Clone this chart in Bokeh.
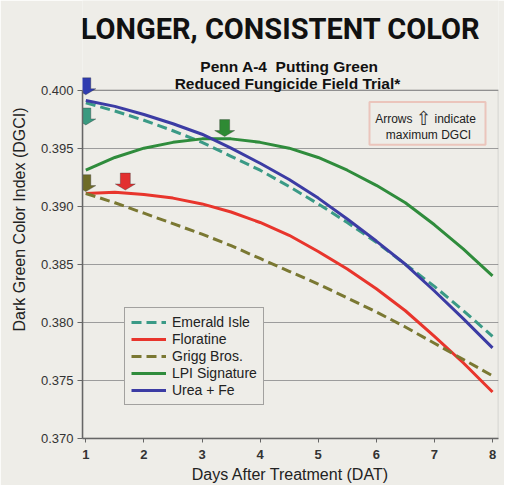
from bokeh.plotting import figure
from bokeh.models import (Legend, LegendItem, BoxAnnotation, Label, FixedTicker,
                          NumeralTickFormatter, Range1d)
from bokeh.embed import file_html
from bokeh.resources import INLINE

# ---------------- data ----------------
days = [1, 1.5, 2, 2.5, 3, 3.5, 4, 4.5, 5, 5.5, 6, 6.5, 7, 7.5, 8]
emerald_isle = [0.3989, 0.3982, 0.3974, 0.3965, 0.3955, 0.3943, 0.3931, 0.3917,
                0.3902, 0.3886, 0.3869, 0.3850, 0.3831, 0.3810, 0.3788]
floratine = [0.3911, 0.3912, 0.3910, 0.3907, 0.3902, 0.3895, 0.3886, 0.3875,
             0.3861, 0.3846, 0.3829, 0.3810, 0.3788, 0.3765, 0.3740]
grigg_bros = [0.3911, 0.3903, 0.3894, 0.3885, 0.3876, 0.3866, 0.3855, 0.3844,
              0.3833, 0.3821, 0.3809, 0.3796, 0.3782, 0.3768, 0.3754]
lpi_signature = [0.3931, 0.3942, 0.3950, 0.3955, 0.3958, 0.3958, 0.3955, 0.3950,
                 0.3942, 0.3931, 0.3918, 0.3903, 0.3884, 0.3863, 0.3840]
urea_fe = [0.3991, 0.3986, 0.3979, 0.3971, 0.3962, 0.3950, 0.3937, 0.3923,
           0.3907, 0.3889, 0.3870, 0.3850, 0.3827, 0.3803, 0.3778]

series_names = ["Emerald Isle", "Floratine", "Grigg Bros.", "LPI Signature", "Urea + Fe"]
# day and DGCI of the "maximum DGCI" arrows (tip position)
arrow_days = [1.0, 1.68, 1.0, 3.39, 1.0]
arrow_vals = [0.3970, 0.3914, 0.39126, 0.3960, 0.3996]

xtick_values = [1, 2, 3, 4, 5, 6, 7, 8]
ytick_values = [0.370, 0.375, 0.380, 0.385, 0.390, 0.395, 0.400]

# ---------------- styles ----------------
BG = "#eeede8"
line_colors = ["#3a9a86", "#e8352c", "#7a7832", "#2f8c3c", "#3c3ca4"]
arrow_colors = ["#3a9a80", "#e23030", "#6e6c28", "#2e8a34", "#2f3cb0"]
dashes = ["10 5", "solid", "10 5", "solid", "solid"]

W, H = 504, 485
BL, BR, BT, BB = 82, 6, 0, 45
X0, X1 = 0.943, 8.103
FW = W - BL - BR
FH = H - BT - BB
PX_X = FW / (X1 - X0)
PX_Y = 350 / 0.030          # pixels per DGCI unit (0.370..0.400 spans 350 px)
Y0 = 0.370
Y1 = Y0 + FH / PX_Y


def gx(px):  # page pixel -> data x
    return X0 + (px - 8 - BL) / PX_X


def gy(py):  # page pixel -> data y
    return Y0 + (8 + BT + FH - py) / PX_Y


p = figure(width=W, height=H, output_backend="svg", toolbar_location=None,
           x_range=Range1d(X0, X1), y_range=Range1d(Y0, Y1),
           min_border_left=BL, min_border_right=BR, min_border_top=BT,
           min_border_bottom=BB)
p.background_fill_color = BG
p.border_fill_color = BG
p.outline_line_color = None

# grid
p.xgrid.visible = False
p.ygrid.grid_line_color = "#9c9c9c"
p.ygrid.grid_line_width = 1.2

# axes
p.yaxis.ticker = FixedTicker(ticks=ytick_values)
p.yaxis.formatter = NumeralTickFormatter(format="0.000")
p.yaxis.bounds = (0.370, 0.400)
p.xaxis.ticker = FixedTicker(ticks=xtick_values)
for ax in (p.xaxis, p.yaxis):
    ax.axis_line_color = "#666666"
    ax.axis_line_width = 1.5
    ax.major_tick_line_color = "#666666"
    ax.major_tick_in = 0
    ax.minor_tick_line_color = None
    ax.major_label_text_font = "Liberation Sans"
    ax.major_label_text_color = "#333333"
    ax.axis_label_text_font = "Liberation Sans"
    ax.axis_label_text_font_style = "normal"
    ax.axis_label_text_color = "#222222"
    ax.axis_label_text_font_size = "16px"
p.yaxis.major_tick_out = 5
p.yaxis.major_label_text_font_size = "13px"
p.yaxis.major_label_standoff = 4
p.yaxis.axis_label = "Dark Green Color Index (DGCI)"
p.yaxis.axis_label_standoff = 10
p.xaxis.major_tick_out = 4
p.xaxis.major_label_text_font_size = "13px"
p.xaxis.major_label_text_font_style = "bold"
p.xaxis.major_label_standoff = 7
p.xaxis.axis_label = "Days After Treatment (DAT)"
p.xaxis.axis_label_standoff = 4

# frame box (0.370 - 0.400)
p.add_layout(BoxAnnotation(top=0.400, bottom=0.370, fill_alpha=0,
                           line_color="#6a6a6a", line_width=1.5, level="underlay"))

# series
all_series = [emerald_isle, floratine, grigg_bros, lpi_signature, urea_fe]
renderers = []
for vals, c, d in zip(all_series, line_colors, dashes):
    r = p.line(days, vals, line_color=c, line_width=3, line_dash=d)
    renderers.append(r)

# arrows (pixel shape around tip converted to data units)
shape = [(0, 0), (-10, 6), (-5, 6), (-5, 17), (5, 17), (5, 6), (10, 6)]
xs, ys = [], []
for ad, av in zip(arrow_days, arrow_vals):
    xs.append([ad + sx / PX_X for sx, sy in shape])
    ys.append([av + sy / PX_Y for sx, sy in shape])
p.patches(xs, ys, fill_color=arrow_colors, line_color="#333333",
          line_alpha=0.35, line_width=1)

# legend
legend = Legend(items=[LegendItem(label=n, renderers=[r])
                       for n, r in zip(series_names, renderers)],
                location=(42, 33), orientation="vertical")
legend.border_line_color = "#555555"
legend.border_line_width = 1
legend.background_fill_color = BG
legend.background_fill_alpha = 1
legend.padding = 6
legend.spacing = 1
legend.margin = 0
legend.label_height = 16
legend.glyph_height = 16
legend.glyph_width = 35
legend.label_standoff = 6
legend.label_text_font = "Liberation Sans"
legend.label_text_font_size = "14px"
legend.label_text_color = "#222222"
p.add_layout(legend)

# arrows note box
p.add_layout(BoxAnnotation(left=gx(377), right=gx(493), top=gy(110), bottom=gy(153),
                           fill_color=BG, fill_alpha=1, line_color="#e46a55",
                           line_width=2))
note_style = dict(text_baseline="middle", text_font="Liberation Sans",
                  text_font_size="12px", text_color="#222222")
p.add_layout(Label(x=gx(420), y=gy(127), text="Arrows", text_align="right",
                   **note_style))
p.add_layout(Label(x=gx(431), y=gy(126), text="\u21e7", text_align="center",
                   text_baseline="middle", text_font="DejaVu Sans",
                   text_font_size="19px", text_color="#333333"))
p.add_layout(Label(x=gx(442), y=gy(127), text="indicate", text_align="left",
                   **note_style))
p.add_layout(Label(x=gx(436), y=gy(143), text="maximum DGCI", text_align="center",
                   **note_style))

# titles
p.add_layout(Label(x=gx(288), y=gy(37), text="LONGER, CONSISTENT COLOR",
                   text_align="center", text_baseline="middle",
                   text_font="Roboto", text_font_style="bold",
                   text_font_size="29px", text_color="#111111"))
p.add_layout(Label(x=gx(297), y=gy(74), text="Penn A-4\u00a0 Putting Green",
                   text_align="center", text_baseline="middle",
                   text_font="Liberation Sans", text_font_style="bold",
                   text_font_size="15.5px", text_color="#111111"))
p.add_layout(Label(x=gx(295), y=gy(91), text="Reduced Fungicide Field Trial*",
                   text_align="center", text_baseline="middle",
                   text_font="Liberation Sans", text_font_style="bold",
                   text_font_size="15.5px", text_color="#111111"))

open("out.html", "w").write(file_html(p, INLINE))
